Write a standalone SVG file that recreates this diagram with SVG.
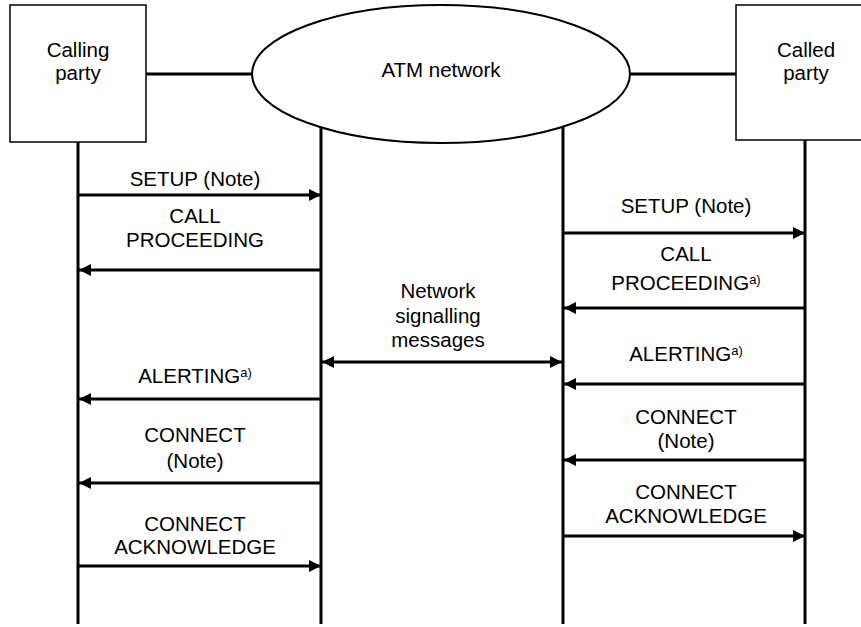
<svg xmlns="http://www.w3.org/2000/svg" width="861" height="627" viewBox="0 0 861 627">
<style>
  text { font-family: "Liberation Sans", Arial, sans-serif; font-size: 20.5px; fill: #000; text-anchor: middle; }
  .sup { font-size: 13px; }
  .box { fill: #fff; stroke: #000; stroke-width: 1.5; }
  .life { stroke: #000; stroke-width: 3; fill: none; }
  .link { stroke: #000; stroke-width: 3; fill: none; }
  .msg { stroke: #000; stroke-width: 3; fill: none; }
</style>
<defs>
  <marker id="ah" markerUnits="userSpaceOnUse" markerWidth="12" markerHeight="12" viewBox="0 0 12 12" refX="12" refY="6" orient="auto-start-reverse">
    <path d="M0,0 L12,6 L0,12 Z" fill="#000"/>
  </marker>
</defs>

<g id="lifelines">
  <line class="life" x1="78" y1="142" x2="78" y2="624"/>
  <line class="life" x1="321" y1="127" x2="321" y2="624"/>
  <line class="life" x1="563" y1="127" x2="563" y2="624"/>
  <line class="life" x1="805" y1="140" x2="805" y2="624"/>
</g>

<g id="links">
  <line class="link" x1="146" y1="74" x2="253" y2="74"/>
  <line class="link" x1="629" y1="74" x2="736" y2="74"/>
</g>

<g id="calling-party">
  <rect class="box" x="10" y="5" width="136" height="137"/>
  <text x="78" y="57">Calling</text>
  <text x="78" y="80">party</text>
</g>

<g id="atm-network">
  <ellipse cx="441" cy="74" rx="189" ry="69" fill="#fff" stroke="#000" stroke-width="2"/>
  <text x="441" y="77">ATM network</text>
</g>

<g id="called-party">
  <rect class="box" x="736" y="5" width="138" height="135"/>
  <text x="806" y="57">Called</text>
  <text x="806" y="80">party</text>
</g>

<g id="connectors">
  <line class="msg" x1="78" y1="195" x2="321" y2="195" marker-end="url(#ah)"/>
  <line class="msg" x1="321" y1="270" x2="79" y2="270" marker-end="url(#ah)"/>
  <line class="msg" x1="321" y1="399" x2="79" y2="399" marker-end="url(#ah)"/>
  <line class="msg" x1="321" y1="483" x2="79" y2="483" marker-end="url(#ah)"/>
  <line class="msg" x1="78" y1="566" x2="321" y2="566" marker-end="url(#ah)"/>

  <line class="msg" x1="322" y1="362" x2="562" y2="362" marker-start="url(#ah)" marker-end="url(#ah)"/>

  <line class="msg" x1="563" y1="233" x2="805" y2="233" marker-end="url(#ah)"/>
  <line class="msg" x1="805" y1="308" x2="564" y2="308" marker-end="url(#ah)"/>
  <line class="msg" x1="805" y1="384" x2="564" y2="384" marker-end="url(#ah)"/>
  <line class="msg" x1="805" y1="460" x2="564" y2="460" marker-end="url(#ah)"/>
  <line class="msg" x1="563" y1="536" x2="805" y2="536" marker-end="url(#ah)"/>
</g>

<g id="labels">
  <text x="195" y="186">SETUP (Note)</text>
  <text x="195" y="223">CALL</text>
  <text x="195" y="247">PROCEEDING</text>
  <text x="195" y="383">ALERTING<tspan class="sup" dy="-6">a)</tspan></text>
  <text x="195" y="442">CONNECT</text>
  <text x="195" y="468">(Note)</text>
  <text x="195" y="531">CONNECT</text>
  <text x="195" y="554">ACKNOWLEDGE</text>

  <text x="438" y="298">Network</text>
  <text x="438" y="323">signalling</text>
  <text x="438" y="347">messages</text>

  <text x="686" y="213">SETUP (Note)</text>
  <text x="686" y="261">CALL</text>
  <text x="686" y="290">PROCEEDING<tspan class="sup" dy="-6">a)</tspan></text>
  <text x="686" y="361">ALERTING<tspan class="sup" dy="-6">a)</tspan></text>
  <text x="686" y="424">CONNECT</text>
  <text x="686" y="448">(Note)</text>
  <text x="686" y="499">CONNECT</text>
  <text x="686" y="523">ACKNOWLEDGE</text>
</g>
</svg>
